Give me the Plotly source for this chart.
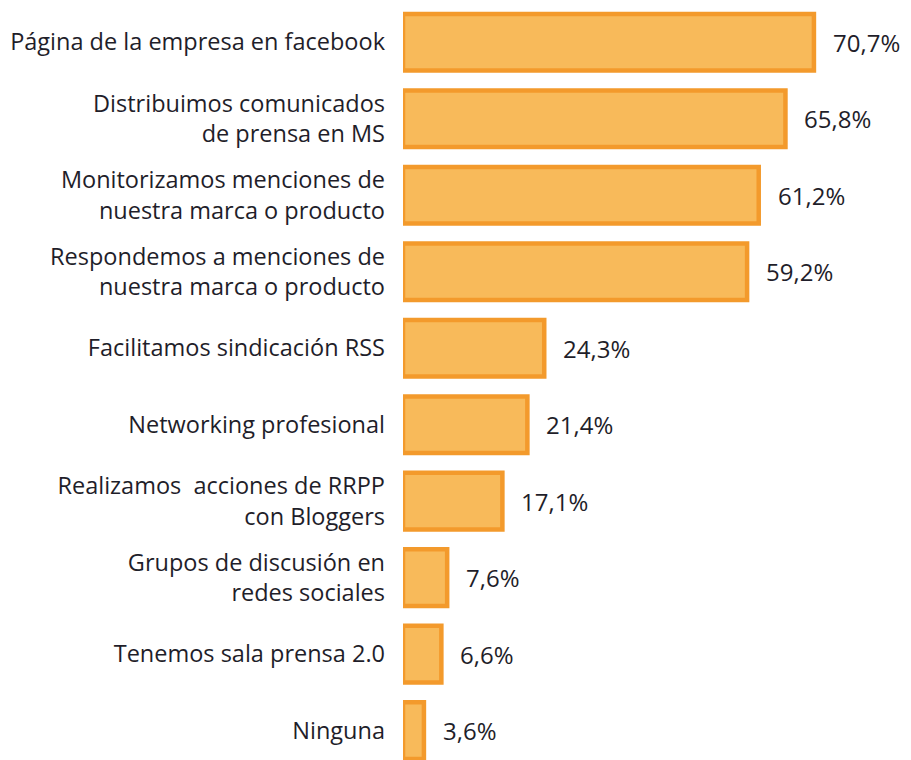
import plotly.graph_objects as go

# Data
categories = [
    "Página de la empresa en facebook",
    "Distribuimos comunicados<br>de prensa en MS",
    "Monitorizamos menciones de<br>nuestra marca o producto",
    "Respondemos a menciones de<br>nuestra marca o producto",
    "Facilitamos sindicación RSS",
    "Networking profesional",
    "Realizamos  acciones de RRPP<br>con Bloggers",
    "Grupos de discusión en<br>redes sociales",
    "Tenemos sala prensa 2.0",
    "Ninguna",
]
values = [70.7, 65.8, 61.2, 59.2, 24.3, 21.4, 17.1, 7.6, 6.6, 3.6]
value_labels = ["70,7%", "65,8%", "61,2%", "59,2%", "24,3%", "21,4%", "17,1%", "7,6%", "6,6%", "3,6%"]

text_color = "#1f1e2a"
font_family = "Open Sans, Noto Sans, sans-serif"

fig = go.Figure()
fig.add_trace(go.Bar(
    x=values
    ,y=categories
    ,orientation="h"
    ,marker=dict(color="#f8ba5a", line=dict(color="#f39a2c", width=4.5))
    ,width=0.74
    ,hoverinfo="skip"
))

# value labels to the right of each bar
for cat, val, lab in zip(categories, values, value_labels):
    fig.add_annotation(
        x=val, y=cat, text=lab, showarrow=False
        ,xanchor="left", xshift=17
        ,font=dict(size=24, color=text_color, family=font_family)
    )

# figure is a bit taller than the window: the last bar is cut at the bottom edge
fig.update_layout(
    width=911, height=775
    ,margin=dict(l=403, r=0, t=4, b=0)
    ,plot_bgcolor="white", paper_bgcolor="white"
    ,showlegend=False
    ,font=dict(family=font_family, color=text_color)
)
fig.update_xaxes(range=[0, 87.4], visible=False, fixedrange=True)
fig.update_yaxes(
    categoryorder="array", categoryarray=categories
    ,range=[9.58, -0.5]
    ,showgrid=False, zeroline=False, showline=False
    ,ticks="", ticklabelstandoff=17
    ,tickfont=dict(size=23.5, color=text_color, family=font_family)
    ,fixedrange=True
)

# remove the default page margin / scrollbars so the figure sits at the window origin
fig.write_html("out.html", config={"displayModeBar": False},
               post_script="document.body.style.margin='0px';document.body.style.overflow='hidden';")
